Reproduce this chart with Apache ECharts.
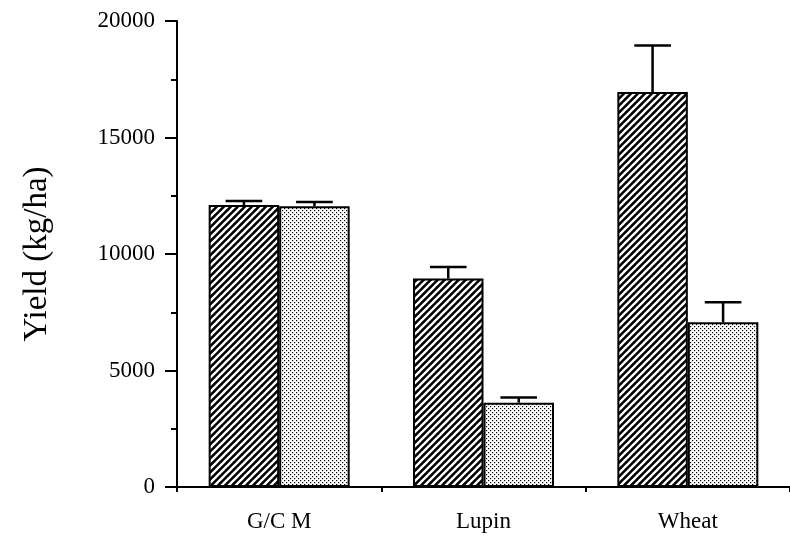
<!DOCTYPE html>
<html>
<head>
<meta charset="utf-8">
<script src="https://cdn.jsdelivr.net/npm/echarts@6/dist/echarts.min.js"></script>
<style>
  html, body { margin: 0; padding: 0; background: #fff; }
  #chart { width: 790px; height: 536px; }
</style>
</head>
<body>
<div id="chart"></div>
<script>
// Crop yield by preceding crop, two treatments, with upward error bars
const categories = ['G/C M', 'Lupin', 'Wheat'];
const hatchedYield = [12100, 8950, 16950];
const hatchedError = [180, 490, 2000];
const dottedYield = [12050, 3620, 7070];
const dottedError = [180, 220, 860];
const yTicks = [0, 5000, 10000, 15000, 20000];

const CATEGORY_GAP = 0.31;
const FONT = '"Liberation Serif", "DejaVu Serif", serif';

// Diagonal hatch tile: black ground with thin white "/" stripes
function makeHatch() {
  const s = 7;
  const c = document.createElement('canvas');
  c.width = s; c.height = s;
  const g = c.getContext('2d');
  g.fillStyle = '#000';
  g.fillRect(0, 0, s, s);
  g.strokeStyle = '#fff';
  g.lineWidth = 2.3;
  g.beginPath();
  g.moveTo(-1, s + 1); g.lineTo(s + 1, -1);
  g.moveTo(-1, 1); g.lineTo(1, -1);
  g.moveTo(s - 1, s + 1); g.lineTo(s + 1, s - 1);
  g.stroke();
  return c;
}

// Fine halftone dot tile
function makeDots() {
  const s = 4;
  const c = document.createElement('canvas');
  c.width = s; c.height = s;
  const g = c.getContext('2d');
  g.fillStyle = '#fff';
  g.fillRect(0, 0, s, s);
  g.fillStyle = '#000';
  g.fillRect(0, 0, 1.2, 1.2);
  g.fillRect(2, 2, 1.2, 1.2);
  return c;
}

const hatchFill = { image: makeHatch(), repeat: 'repeat' };
const dotFill = { image: makeDots(), repeat: 'repeat' };

function errorData(values, errors) {
  return values.map((v, i) => [i, v, v + errors[i]]);
}

function errorBarRenderer(side) {
  return function (params, api) {
    const cat = api.value(0);
    const band = api.size([1, 0])[0];
    const barW = band * (1 - CATEGORY_GAP) / 2;
    const cx = api.coord([cat, 0])[0] + side * barW / 2;
    const yBase = api.coord([cat, api.value(1)])[1];
    const yTop = api.coord([cat, api.value(2)])[1];
    const capHalf = barW * 0.26;
    const style = { stroke: '#000', lineWidth: 2.5, fill: null };
    return {
      type: 'group',
      children: [
        { type: 'line', shape: { x1: cx, y1: yBase, x2: cx, y2: yTop }, style },
        { type: 'line', shape: { x1: cx - capHalf, y1: yTop, x2: cx + capHalf, y2: yTop }, style }
      ]
    };
  };
}

const chart = echarts.init(document.getElementById('chart'), null, { renderer: 'canvas' });

chart.setOption({
  animation: false,
  backgroundColor: '#fff',
  grid: { left: 177, right: 0, top: 21, bottom: 49, containLabel: false },
  xAxis: {
    type: 'category',
    data: categories,
    axisLine: { lineStyle: { color: '#000', width: 2 } },
    axisTick: { show: true, length: 5, lineStyle: { color: '#000', width: 2 } },
    axisLabel: { color: '#000', fontFamily: FONT, fontSize: 23, margin: 23 },
    splitLine: { show: false }
  },
  yAxis: {
    type: 'value',
    min: yTicks[0],
    max: yTicks[yTicks.length - 1],
    interval: yTicks[1] - yTicks[0],
    name: 'Yield (kg/ha)',
    nameLocation: 'middle',
    nameGap: 123,
    nameTextStyle: { color: '#000', fontFamily: FONT, fontSize: 33 },
    axisLine: { show: true, lineStyle: { color: '#000', width: 2 } },
    axisTick: { show: true, length: 12, lineStyle: { color: '#000', width: 2 } },
    minorTick: { show: true, splitNumber: 2, length: 6, lineStyle: { color: '#000', width: 2 } },
    axisLabel: {
      color: '#000', fontFamily: FONT, fontSize: 23, margin: 22,
      formatter: (v) => String(v)
    },
    splitLine: { show: false }
  },
  series: [
    {
      type: 'bar',
      data: hatchedYield,
      barGap: '0%',
      barCategoryGap: (CATEGORY_GAP * 100) + '%',
      itemStyle: { color: hatchFill, borderColor: '#000', borderWidth: 2 }
    },
    {
      type: 'bar',
      data: dottedYield,
      itemStyle: { color: dotFill, borderColor: '#000', borderWidth: 2 }
    },
    {
      type: 'custom',
      data: errorData(hatchedYield, hatchedError),
      renderItem: errorBarRenderer(-1),
      z: 5
    },
    {
      type: 'custom',
      data: errorData(dottedYield, dottedError),
      renderItem: errorBarRenderer(1),
      z: 5
    }
  ]
});
</script>
</body>
</html>
